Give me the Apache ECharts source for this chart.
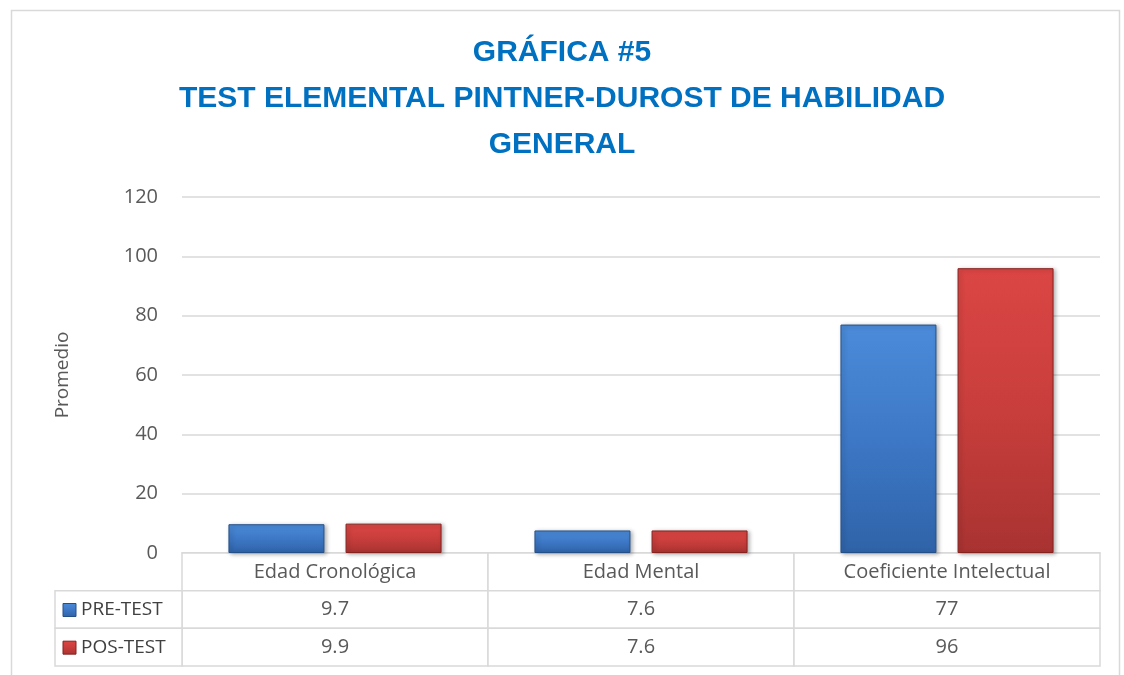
<!DOCTYPE html>
<html>
<head>
<meta charset="utf-8">
<title>Gráfica #5</title>
<script src="https://cdn.jsdelivr.net/npm/echarts@6/dist/echarts.min.js"></script>
<style>
    html, body {margin: 0; padding: 0; background: #fff;}
    #chart {width: 1124px; height: 675px;}
</style>
</head>
<body>
<div id="chart"></div>
<script>
/*---------------------------------------- datos ---------------------------------------------*/
var categories = ['Edad Cronológica', 'Edad Mental', 'Coeficiente Intelectual'];
var seriesNames = ['PRE-TEST', 'POS-TEST'];
var preTest = [9.7, 7.6, 77];
var posTest = [9.9, 7.6, 96];
var yTicks = [0, 20, 40, 60, 80, 100, 120];

var titleText = 'GRÁFICA #5\nTEST ELEMENTAL PINTNER-DUROST DE HABILIDAD\nGENERAL';
var yName = 'Promedio';

var font = 'Open Sans';
var textColor = '#595959';
var gridColor = '#d9d9d9';

var blueFill = new echarts.graphic.LinearGradient(0, 0, 0, 1, [
    {offset: 0, color: '#4b8bd9'},
    {offset: 0.5, color: '#3d78c6'},
    {offset: 1, color: '#2f63a8'}
]);
var redFill = new echarts.graphic.LinearGradient(0, 0, 0, 1, [
    {offset: 0, color: '#db4644'},
    {offset: 0.5, color: '#c83e3c'},
    {offset: 1, color: '#a83331'}
]);
var fills = [blueFill, redFill];
var edges = ['#24508a', '#85231f'];

// filas de la tabla: encabezado + una fila por serie
var tableCells = [];
categories.forEach(function (c, i) {
    tableCells.push([i, 0, c, -1]);
    tableCells.push([i, 1, String(preTest[i]), -1]);
    tableCells.push([i, 2, String(posTest[i]), -1]);
});
seriesNames.forEach(function (n, k) {
    tableCells.push([-1, k + 1, n, k]);
});

var legendWidth = 127 / 306;

function renderCell(params, api) {
    var col = api.value(0);
    var row = api.value(1);
    var text = tableCells[params.dataIndex][2];
    var legendIdx = api.value(3);
    var x0 = col < 0 ? -legendWidth : col;
    var x1 = col < 0 ? 0 : col + 1;
    var p0 = api.coord([x0, row]);
    var p1 = api.coord([x1, row + 1]);
    var children = [{
        type: 'rect',
        shape: {x: p0[0], y: p0[1], width: p1[0] - p0[0], height: p1[1] - p0[1]},
        style: {fill: '#fff', stroke: gridColor, lineWidth: 1.5}
    }];
    var cy = (p0[1] + p1[1]) / 2;
    if (legendIdx >= 0) {
        children.push({
            type: 'rect',
            shape: {x: p0[0] + 8, y: cy - 6, width: 13, height: 13},
            style: {fill: fills[legendIdx], stroke: edges[legendIdx], lineWidth: 1}
        });
        children.push({
            type: 'text',
            style: {
                x: p0[0] + 26, y: cy, text: text, fill: '#404040',
                font: '19px "' + font + '"', verticalAlign: 'middle', align: 'left'
            }
        });
    } else {
        children.push({
            type: 'text',
            style: {
                x: (p0[0] + p1[0]) / 2, y: cy, text: text, fill: textColor,
                font: '20px "' + font + '"', verticalAlign: 'middle', align: 'center'
            }
        });
    }
    return {type: 'group', children: children};
}

var chart = echarts.init(document.getElementById('chart'));

var option = {
    backgroundColor: '#fff',
    animation: false,
    title: {
        text: titleText,
        left: 'center',
        top: 25,
        textStyle: {
            fontFamily: 'Liberation Sans',
            fontWeight: 'bold',
            fontSize: 30,
            lineHeight: 46,
            color: '#0070c0'
        }
    },
    graphic: [{
        type: 'rect',
        left: 9, top: 8,
        shape: {width: 1108, height: 680},
        style: {fill: 'none', stroke: '#d9d9d9', lineWidth: 1.5},
        silent: true
    }],
    grid: [
        {left: 182, right: 24, top: 197, bottom: 122},
        {left: 182, right: 24, top: 553, bottom: 9}
    ],
    xAxis: [{
        gridIndex: 0,
        type: 'category',
        data: categories,
        axisLine: {show: true, lineStyle: {color: gridColor, width: 1.5}},
        axisTick: {show: false},
        axisLabel: {show: false}
    }, {
        gridIndex: 1,
        type: 'value',
        min: 0, max: categories.length,
        show: false
    }],
    yAxis: [{
        gridIndex: 0,
        type: 'value',
        min: yTicks[0],
        max: yTicks[yTicks.length - 1],
        interval: 20,
        name: yName,
        nameLocation: 'middle',
        nameGap: 110,
        nameTextStyle: {color: textColor, fontFamily: font, fontSize: 19},
        axisLine: {show: false},
        axisTick: {show: false},
        axisLabel: {color: textColor, fontFamily: font, fontSize: 20, margin: 24},
        splitLine: {lineStyle: {color: gridColor, width: 1.5}}
    }, {
        gridIndex: 1,
        type: 'value',
        min: 0, max: 3,
        inverse: true,
        show: false
    }],
    series: [{
        name: seriesNames[0],
        type: 'bar',
        xAxisIndex: 0, yAxisIndex: 0,
        data: preTest,
        barWidth: 96,
        barGap: '22%',
        itemStyle: {
            color: blueFill,
            borderColor: edges[0],
            borderWidth: 1,
            shadowColor: 'rgba(0,0,0,0.3)',
            shadowBlur: 4,
            shadowOffsetX: 2,
            shadowOffsetY: 1
        }
    }, {
        name: seriesNames[1],
        type: 'bar',
        xAxisIndex: 0, yAxisIndex: 0,
        data: posTest,
        barWidth: 96,
        barGap: '22%',
        itemStyle: {
            color: redFill,
            borderColor: edges[1],
            borderWidth: 1,
            shadowColor: 'rgba(0,0,0,0.3)',
            shadowBlur: 4,
            shadowOffsetX: 2,
            shadowOffsetY: 1
        }
    }, {
        name: 'tabla',
        type: 'custom',
        xAxisIndex: 1, yAxisIndex: 1,
        data: tableCells,
        encode: {x: 0, y: 1},
        renderItem: renderCell,
        clip: false,
        silent: true
    }]
};
chart.setOption(option);
</script>
</body>
</html>
